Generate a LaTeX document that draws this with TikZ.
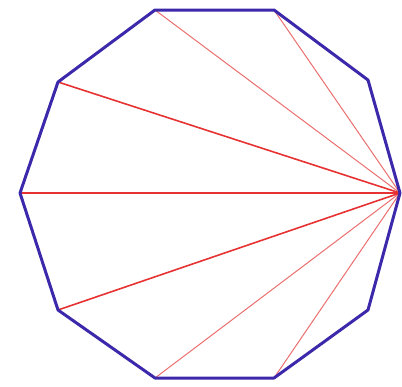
\documentclass[tikz,border=0pt]{standalone}
\begin{document}
\begin{tikzpicture}[x=1pt,y=-1pt,
  edge/.style={draw={rgb,255:red,60;green,40;blue,170},line width=3pt,line join=round},
  diagA/.style={draw={rgb,255:red,230;green,50;blue,50},line width=1.6pt},
  diagB/.style={draw={rgb,255:red,235;green,110;blue,110},line width=1pt}]
\useasboundingbox (0,0) rectangle (402,386);
\coordinate (v0) at (400,193);
\coordinate (v1) at (368,80);
\coordinate (v2) at (274,10);
\coordinate (v3) at (155,10);
\coordinate (v4) at (58,82);
\coordinate (v5) at (20,193);
\coordinate (v6) at (58,310);
\coordinate (v7) at (155,378);
\coordinate (v8) at (274,378);
\coordinate (v9) at (368,310);
\draw[diagB] (v0) -- (v2);
\draw[diagB] (v0) -- (v3);
\draw[diagB] (v0) -- (v7);
\draw[diagB] (v0) -- (v8);
\draw[diagA] (v0) -- (v4);
\draw[diagA] (v0) -- (v5);
\draw[diagA] (v0) -- (v6);
\draw[edge] (v0) -- (v1) -- (v2) -- (v3) -- (v4) -- (v5) -- (v6) -- (v7) -- (v8) -- (v9) -- cycle;
\end{tikzpicture}
\end{document}
